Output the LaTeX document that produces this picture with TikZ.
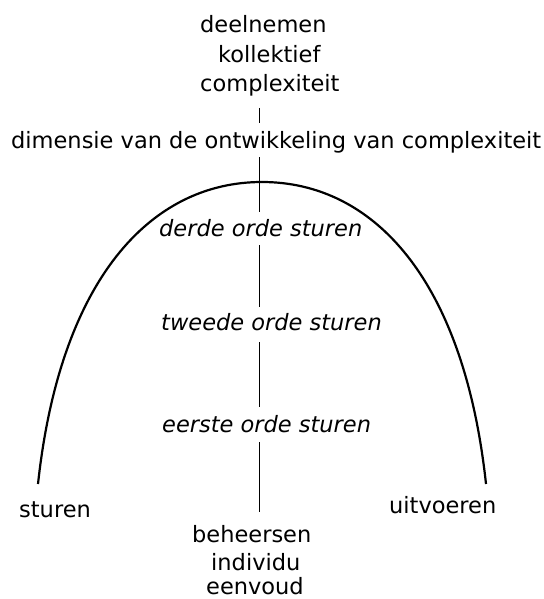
\documentclass[tikz,border=0pt]{standalone}
\usepackage{fontspec}
\setmainfont{DejaVu Sans}
\usetikzlibrary{calc}
\begin{document}
\begin{tikzpicture}[x=1pt,y=-1pt,
  lbl/.style={inner sep=0pt, anchor=base west, font=\fontsize{22.5}{27}\selectfont},
  ordelbl/.style={lbl, font=\fontsize{22.5}{27}\selectfont\itshape},
  axisline/.style={draw=black, line width=1pt},
  arcline/.style={draw=black, line width=2.2pt}]
\useasboundingbox[fill=white] (0,0) rectangle (543,599);
% texts
\node[lbl] (deel) at (200,33) {deelnemen};
\node[lbl] (koll) at (218,63) {kollektief};
\node[lbl] (comp) at (200,92) {complexiteit};
\node[lbl] (dim) at (11,148) {dimensie van de ontwikkeling van complexiteit};
\node[ordelbl] (derde) at (159,236) {derde orde sturen};
\node[ordelbl] (tweede) at (161,330) {tweede orde sturen};
\node[ordelbl] (eerste) at (162,432) {eerste orde sturen};
\node[lbl] (sturen) at (19,517) {sturen};
\node[lbl] (uitv) at (389,513) {uitvoeren};
\node[lbl] (beh) at (192,542) {beheersen};
\node[lbl] (indiv) at (211,570) {individu};
\node[lbl] (eenv) at (206,594) {eenvoud};
% vertical axis
\coordinate (ax) at (259,0);
\draw[axisline] ($(comp.base -| ax)+(0,16)$) -- ($(dim.base -| ax)+(0,-25)$);
\draw[axisline] ($(dim.base -| ax)+(0,9)$) -- ($(derde.base -| ax)+(0,-24)$);
\draw[axisline] ($(derde.base -| ax)+(0,9)$) -- ($(tweede.base -| ax)+(0,-23)$);
\draw[axisline] ($(tweede.base -| ax)+(0,12)$) -- ($(eerste.base -| ax)+(0,-25)$);
\draw[axisline] ($(eerste.base -| ax)+(0,10)$) -- ($(beh.base -| ax)+(0,-30)$);
% arch
\draw[arcline] (38,484) .. controls (60,280) and (150,182) .. (262,182)
  .. controls (374,182) and (464,280) .. (486,484);
\end{tikzpicture}
\end{document}
